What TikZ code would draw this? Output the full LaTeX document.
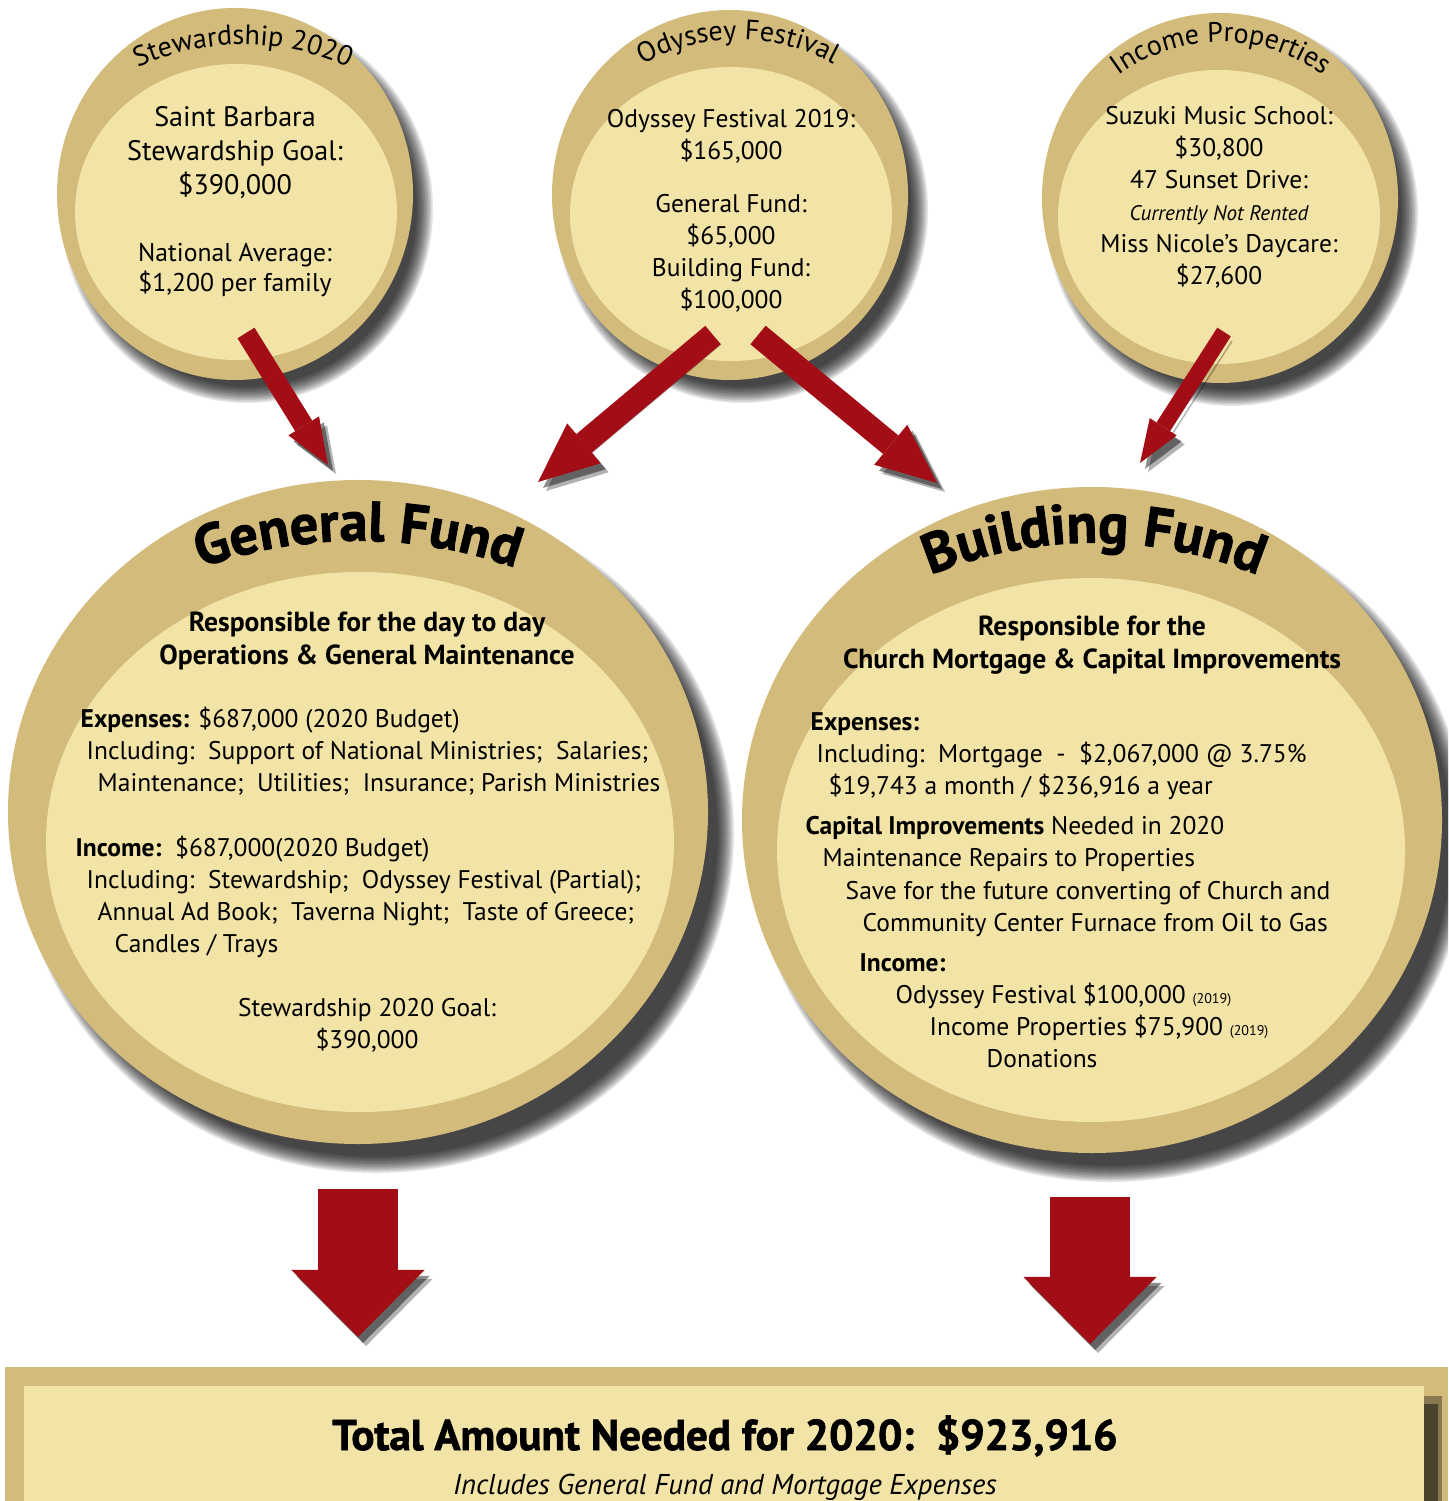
\documentclass[tikz,border=0pt]{standalone}
\usepackage{fontspec}
\setmainfont{PT Sans}
\newfontfamily\heavyfont{PT Sans}[BoldFeatures={FakeBold=1.6}]
\usetikzlibrary{arrows.meta, calc, positioning, decorations.text}
\newlength{\px}
\setlength{\px}{0.01cm}
\definecolor{ringtan}{RGB}{211,187,124}
\definecolor{discfill}{RGB}{242,227,166}
\definecolor{arrowred}{RGB}{163,14,22}
\newcommand{\yearfont}{\fontsize{4}{4}\selectfont}
% soft shadow under a disc: centre, x radius, y radius, offset
\newcommand{\discshadow}[4]{%
  \foreach \k in {0,...,11}{%
    \fill[black, opacity=0.1] ($(#1)+(#4,#4+3)$) ellipse ({#2+8-1.5*\k} and {#3+8-1.5*\k});
  }}

\begin{document}
\begin{tikzpicture}[x=0.01cm, y=-0.01cm,
    bodytext/.style={font=\fontsize{7.25}{9.1}\selectfont, align=center, inner sep=0pt},
    headtext/.style={font=\bfseries\fontsize{7.85}{9.1}\selectfont, align=center, inner sep=0pt},
    redarrow/.style n args={3}{draw=arrowred, line width=#1,
      -{Triangle[length=#2, width=#3, line width=0pt]},
      preaction={draw=black, opacity=0.3, transform canvas={shift={(0.08cm,-0.09cm)}}},
      preaction={draw=black, opacity=0.45, transform canvas={shift={(0.05cm,-0.06cm)}}}}]
    \useasboundingbox (0,0) rectangle (1448,1501);
    \clip (0,0) rectangle (1448,1501);

    % disc centres
    \coordinate (stew) at (235,194);
    \coordinate (odys) at (730,195);
    \coordinate (inco) at (1220,198);
    \coordinate (gf) at (358,812);
    \coordinate (bf) at (1092,820);

    % shadows
    \discshadow{stew}{178}{186}{12}
    \discshadow{odys}{178}{185}{12}
    \discshadow{inco}{178}{185}{12}
    \discshadow{gf}{350}{332}{18}
    \discshadow{bf}{350}{333}{18}

    % small discs
    \fill[ringtan] (stew) ellipse (178 and 186);
    \fill[discfill] (236,212) ellipse (161 and 148);
    \fill[ringtan] (odys) ellipse (178 and 185);
    \fill[discfill] (731,214) ellipse (161 and 147);
    \fill[ringtan] (inco) ellipse (178 and 185);
    \fill[discfill] (1219,217) ellipse (161 and 147);

    % large discs
    \fill[ringtan] (gf) ellipse (350 and 332);
    \fill[discfill] (360,842) ellipse (314 and 270);
    \fill[ringtan] (bf) ellipse (350 and 333);
    \fill[discfill] (1091,850) ellipse (314 and 272);

    % curved titles
    \path[decorate, decoration={text along path, text align=center,
      text={|\fontsize{8}{8}\selectfont|Stewardship 2020}}]
      (243,305) ++(125:2.6cm) arc[start angle=125, end angle=55, radius=2.6cm];
    \path[decorate, decoration={text along path, text align=center,
      text={|\fontsize{8}{8}\selectfont|Odyssey Festival}}]
      (738,240) ++(130:2.0cm) arc[start angle=130, end angle=50, radius=2.0cm];
    \path[decorate, decoration={text along path, text align=center,
      text={|\fontsize{8}{8}\selectfont|Income Properties}}]
      (1221,214) ++(140:1.72cm) arc[start angle=140, end angle=40, radius=1.72cm];
    \path[decorate, decoration={text along path, text align=center,
      text={|\heavyfont\bfseries\fontsize{16}{16}\selectfont|General Fund}}]
      (358,1011) ++(120:4.7cm) arc[start angle=120, end angle=60, radius=4.7cm];
    \path[decorate, decoration={text along path, text align=center,
      text={|\heavyfont\bfseries\fontsize{16}{16}\selectfont|Building Fund}}]
      (1094,974) ++(122:4.31cm) arc[start angle=122, end angle=58, radius=4.31cm];

    % small disc texts (anchored at the baseline of the last line)
    \node[bodytext, font=\fontsize{8}{9.7}\selectfont, anchor=base] (stew-goal) at (235,195)
      {Saint Barbara\\Stewardship Goal:\\\$390,000};
    \node[bodytext, font=\fontsize{7.3}{8.8}\selectfont, anchor=base] (stew-avg) at (235,292)
      {National Average:\\\$1,200 per family};
    \node[bodytext, anchor=base] (odys-total) at (731,160)
      {Odyssey Festival 2019:\\\$165,000};
    \node[bodytext, anchor=base] (odys-split) at (731,309)
      {General Fund:\\\$65,000\\Building Fund:\\\$100,000};
    \node[bodytext, anchor=base] (inco-list) at (1219,285)
      {Suzuki Music School:\\\$30,800\\47 Sunset Drive:\\{\itshape\fontsize{6}{6}\selectfont Currently Not Rented}\\Miss Nicole’s Daycare:\\\$27,600};

    % general fund texts
    \node[headtext, anchor=base] (gf-head) at (367,664)
      {Responsible for the day to day\\Operations \& General Maintenance};
    \node[bodytext, align=left, anchor=base west] (gf-lines) at (75,952)
      {\hspace*{5\px}\textbf{Expenses:} \$687,000 (2020 Budget)\\
       \hspace*{11\px}Including:\ \ Support of National Ministries;\ \ Salaries;\\
       \hspace*{22\px}Maintenance;\ \ Utilities;\ \ Insurance; Parish Ministries\\[32\px]
       \textbf{Income:}\ \ \$687,000(2020 Budget)\\
       \hspace*{11\px}Including:\ \ Stewardship;\ \ Odyssey Festival (Partial);\\
       \hspace*{22\px}Annual Ad Book;\ \ Taverna Night;\ \ Taste of Greece;\\
       \hspace*{39\px}Candles / Trays};
    \node[bodytext, anchor=base] (gf-goal) at (367,1048)
      {Stewardship 2020 Goal:\\\$390,000};

    % building fund texts
    \node[headtext, anchor=base] (bf-head) at (1092,668)
      {Responsible for the\\Church Mortgage \& Capital Improvements};
    \node[bodytext, align=left, anchor=base west] (bf-lines) at (805,1067)
      {\hspace*{5\px}\textbf{Expenses:}\\
       \hspace*{11\px}Including:\ \ Mortgage\ \ -\ \ \$2,067,000 @ 3.75\%\\
       \hspace*{23\px}\$19,743 a month / \$236,916 a year\\[8\px]
       \textbf{Capital Improvements} Needed in 2020\\
       \hspace*{17\px}Maintenance Repairs to Properties\\
       \hspace*{40\px}Save for the future converting of Church and\\
       \hspace*{57\px}Community Center Furnace from Oil to Gas\\[8\px]
       \hspace*{54\px}\textbf{Income:}\\
       \hspace*{90\px}Odyssey Festival \$100,000 {\yearfont(2019)}\\
       \hspace*{124\px}Income Properties \$75,900 {\yearfont(2019)}\\
       \hspace*{181\px}Donations};

    % total box
    \fill[ringtan] (5,1367) rectangle (1448,1510);
    \fill[black, opacity=0.35] (1424,1396) rectangle (1442,1510);
    \fill[black, opacity=0.45] (1424,1404) rectangle (1438,1510);
    \fill[discfill] (24,1386) rectangle (1424,1510);
    \node[inner sep=0pt, anchor=base, font=\heavyfont\bfseries\fontsize{12.25}{12.25}\selectfont] (total)
      at (725,1450) {Total Amount Needed for 2020:\ \ \$923,916};
    \node[inner sep=0pt, anchor=base, font=\itshape\fontsize{8.15}{8.15}\selectfont] (total-note)
      at (725,1494) {Includes General Fund and Mortgage Expenses};

    % arrows
    \coordinate (stew-out) at (246,333);
    \coordinate (gf-in) at (328,465);
    \coordinate (odys-out-l) at (713,335);
    \coordinate (gf-in-r) at (538,482);
    \coordinate (odys-out-r) at (758,335);
    \coordinate (bf-in-l) at (937,483);
    \coordinate (inco-out) at (1224,332);
    \coordinate (bf-in) at (1140,463);
    \coordinate (gf-out) at (358,1189);
    \coordinate (total-in-l) at (358,1337);
    \coordinate (bf-out) at (1090,1197);
    \coordinate (total-in-r) at (1090,1344);

    \draw[redarrow={0.20cm}{0.46cm}{0.36cm}] (stew-out) -- (gf-in);
    \draw[redarrow={0.24cm}{0.60cm}{0.52cm}] (odys-out-l) -- (gf-in-r);
    \draw[redarrow={0.24cm}{0.60cm}{0.52cm}] (odys-out-r) -- (bf-in-l);
    \draw[redarrow={0.16cm}{0.43cm}{0.32cm}] (inco-out) -- (bf-in);
    \draw[redarrow={0.80cm}{0.67cm}{1.33cm}] (gf-out) -- (total-in-l);
    \draw[redarrow={0.80cm}{0.67cm}{1.33cm}] (bf-out) -- (total-in-r);
\end{tikzpicture}
\end{document}
